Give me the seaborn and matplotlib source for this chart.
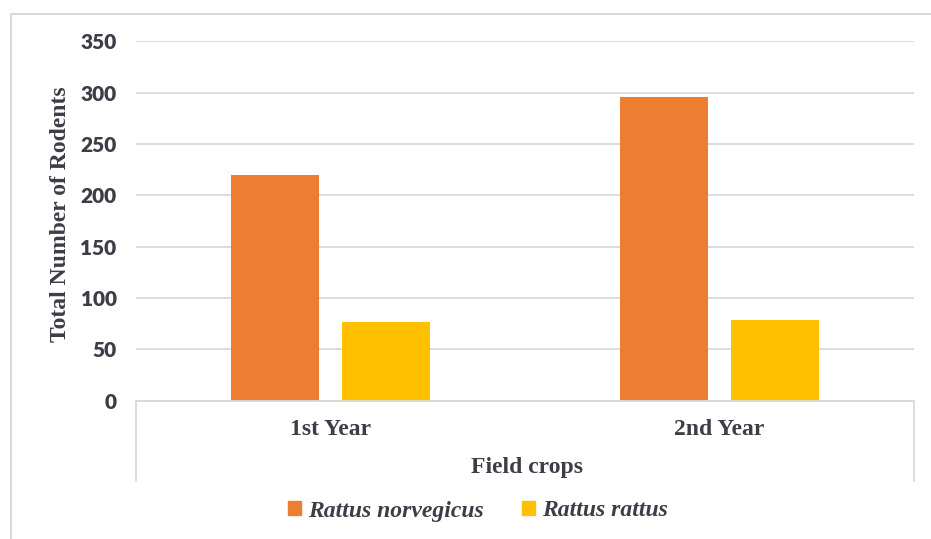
import matplotlib
matplotlib.use("Agg")
import matplotlib.pyplot as plt
from matplotlib.lines import Line2D
from matplotlib.patches import Rectangle
import seaborn as sns
import pandas as pd

# Data
categories = ["1st Year", "2nd Year"]
species = ["Rattus norvegicus", "Rattus rattus"]
norvegicus_counts = [220, 296]
rattus_counts = [77, 79]
y_ticks = [0, 50, 100, 150, 200, 250, 300, 350]

df = pd.DataFrame({
    "Year": categories * 2,
    "Species": [species[0]] * 2 + [species[1]] * 2,
    "Count": norvegicus_counts + rattus_counts,
})

sns.set_theme(style="white")
text_color = "#3d3d48"
grid_color = "#d9d9d9"
serif = ["Liberation Serif", "DejaVu Serif"]

fig = plt.figure(figsize=(9.31, 5.39), dpi=100)
ax = fig.add_axes([136 / 931, 138.3 / 539, 778 / 931, 359.4 / 539])

palette = {species[0]: "#ED7D31", species[1]: "#FFC000"}
sns.barplot(data=df, x="Year", y="Count", hue="Species", order=categories,
            hue_order=species, palette=palette, width=0.571, gap=0.207,
            saturation=1, ax=ax, legend=False, linewidth=0)

ax.set_ylim(0, 350)
ax.set_xlim(-0.5, 1.5)
ax.set_yticks(y_ticks)
ax.yaxis.grid(True, color=grid_color, linewidth=1.3)
ax.set_axisbelow(True)
for side in ["top", "right", "left"]:
    ax.spines[side].set_visible(False)
ax.spines["bottom"].set_color(grid_color)
ax.spines["bottom"].set_linewidth(1.3)
ax.tick_params(axis="both", length=0)
ax.tick_params(axis="y", pad=14)
ax.tick_params(axis="x", pad=13)

for lbl in ax.get_yticklabels():
    lbl.set_fontfamily(["Lato", "DejaVu Sans"])
    lbl.set_fontweight("heavy")
    lbl.set_fontsize(15)
    lbl.set_color(text_color)
for lbl in ax.get_xticklabels():
    lbl.set_fontfamily(serif)
    lbl.set_fontweight("bold")
    lbl.set_fontsize(17)
    lbl.set_color(text_color)

ax.set_xlabel("")
ax.set_ylabel("Total Number of Rodents", fontfamily=serif, fontweight="bold",
              fontsize=17, color=text_color)
ax.yaxis.set_label_coords(-0.084, 0.52)

# Category-axis box below the plot
box_bottom = -0.224
for xpos in (0.0, 1.0):
    ax.add_line(Line2D([xpos, xpos], [0, box_bottom], transform=ax.transAxes,
                       color=grid_color, linewidth=1.3, clip_on=False))
ax.text(0.502, -0.186, "Field crops", transform=ax.transAxes, ha="center",
        va="center", fontfamily=serif, fontweight="bold", fontsize=17,
        color=text_color)

# Legend
handles = [Rectangle((0, 0), 1, 1, color=palette[s]) for s in species]
fig.legend(handles, species, loc="center", bbox_to_anchor=(478 / 931, 1 - 511 / 539),
           ncol=2, frameon=False, handlelength=0.55, handleheight=0.55,
           handletextpad=0.3, columnspacing=1.6,
           prop={"family": serif, "style": "italic", "weight": "bold", "size": 17},
           labelcolor=text_color)

# Outer chart border
fig.patches.append(Rectangle((11 / 931, -0.05), 1.0, 1 - 14 / 539 + 0.05,
                             transform=fig.transFigure, fill=False,
                             edgecolor=grid_color, linewidth=1.5))

fig.savefig("out.png", dpi=100, facecolor="white")
